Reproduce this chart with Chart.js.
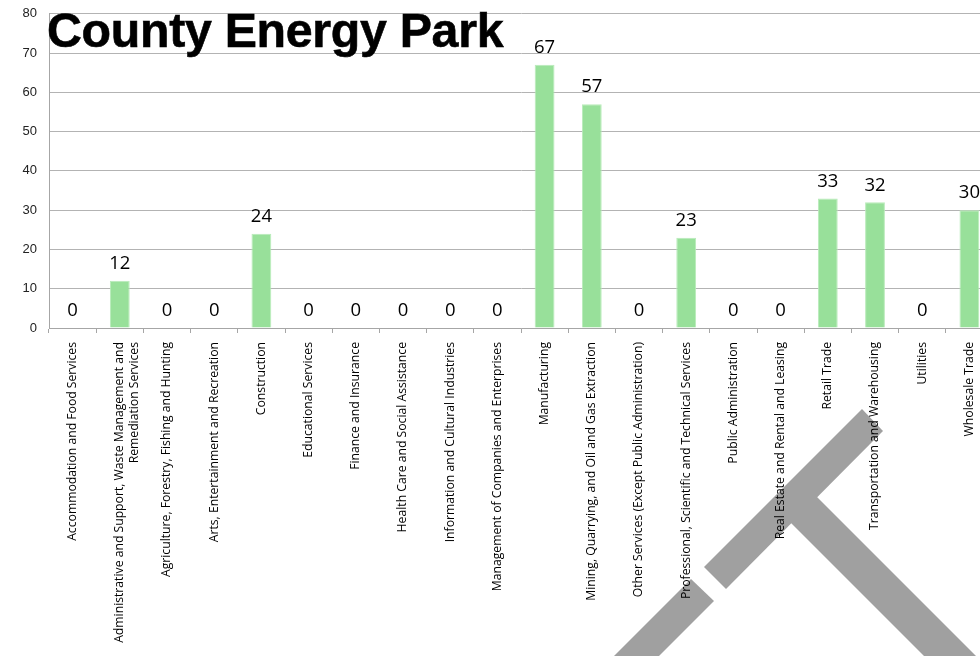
<!DOCTYPE html>
<html>
<head>
<meta charset="utf-8">
<script src="https://cdn.jsdelivr.net/npm/chart.js@4"></script>
<style>
  html, body { margin: 0; padding: 0; background: #fff; overflow: hidden; }
  #wrap { position: relative; width: 980px; height: 656px; overflow: hidden; }
  #logo { position: absolute; left: 0; top: 0; }
  #box { position: absolute; left: 0; top: -6px; width: 1000px; height: 662px; }
  #title {
    position: absolute; left: 47px; top: 2px;
    font: bold 48.3px "Liberation Sans", Arial, sans-serif;
    color: #000; white-space: nowrap; letter-spacing: -0.3px;
    -webkit-text-stroke: 0.6px #000;
  }
</style>
</head>
<body>
<div id="wrap">
  <svg id="logo" width="980" height="656">
    <g fill="#a0a0a0">
      <polygon points="704,567 862,409 883,431 726,589"/>
      <polygon points="691,579 714,601 659,656 614,656"/>
      <polygon points="782,514 808,488 1020,700 968,700"/>
    </g>
  </svg>
  <div id="box"><canvas id="chart"></canvas></div>
  <div id="title">County Energy Park</div>
</div>
<script>
const industries = [
  'Accommodation and Food Services',
  ['Administrative and Support, Waste Management and', 'Remediation Services'],
  'Agriculture, Forestry, Fishing and Hunting',
  'Arts, Entertainment and Recreation',
  'Construction',
  'Educational Services',
  'Finance and Insurance',
  'Health Care and Social Assistance',
  'Information and Cultural Industries',
  'Management of Companies and Enterprises',
  'Manufacturing',
  'Mining, Quarrying, and Oil and Gas Extraction',
  'Other Services (Except Public Administration)',
  'Professional, Scientific and Technical Services',
  'Public Administration',
  'Real Estate and Rental and Leasing',
  'Retail Trade',
  'Transportation and Warehousing',
  'Utilities',
  'Wholesale Trade'
];
const counts = [0, 12, 0, 0, 24, 0, 0, 0, 0, 0, 67, 57, 0, 23, 0, 0, 33, 32, 0, 30];
const yTicks = [0, 10, 20, 30, 40, 50, 60, 70, 80];

// value labels above each bar (zeros too)
const barLabels = {
  id: 'barLabels',
  afterDatasetsDraw(chart) {
    const ctx = chart.ctx;
    const meta = chart.getDatasetMeta(0);
    ctx.save();
    ctx.font = '18.5px "Open Sans", sans-serif';
    ctx.fillStyle = '#000';
    ctx.textAlign = 'center';
    ctx.textBaseline = 'middle';
    meta.data.forEach((bar, i) => {
      ctx.fillText(String(counts[i]), bar.x, bar.y - 17);
    });
    ctx.restore();
  }
};

new Chart(document.getElementById('chart'), {
  type: 'bar',
  data: {
    labels: industries,
    datasets: [{
      data: counts,
      backgroundColor: '#98e09a',
      borderColor: '#b8ebb9',
      borderWidth: { top: 1, left: 1, right: 1, bottom: 0 },
      categoryPercentage: 1,
      barPercentage: 0.42
    }]
  },
  options: {
    responsive: true,
    maintainAspectRatio: false,
    animation: false,
    layout: { padding: { top: 7, right: 7, left: 0, bottom: 0 } },
    plugins: {
      legend: { display: false },
      tooltip: { enabled: false }
    },
    scales: {
      x: {
        afterFit: s => { s.height = 328; },
        grid: { drawOnChartArea: false, color: '#a6a6a6', tickLength: 5, offset: true },
        border: { color: '#a6a6a6' },
        ticks: {
          color: '#000',
          font: { family: '"Open Sans", sans-serif', size: 12.2 },
          minRotation: 90, maxRotation: 90, autoSkip: false, padding: 9
        }
      },
      y: {
        min: 0, max: 80,
        afterFit: s => { s.width = 49; },
        afterBuildTicks: s => { s.ticks = yTicks.map(v => ({ value: v })); },
        grid: { color: '#b3b3b3', drawTicks: false },
        border: { color: '#a6a6a6' },
        ticks: {
          color: '#222',
          font: { family: '"Liberation Sans", Arial, sans-serif', size: 13 },
          padding: 12
        }
      }
    }
  },
  plugins: [barLabels]
});
</script>
</body>
</html>
